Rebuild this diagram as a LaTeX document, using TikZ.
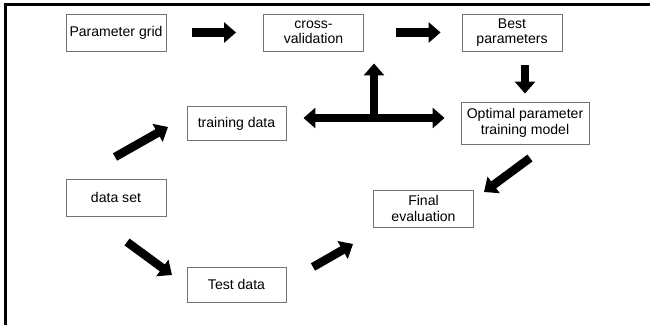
\documentclass[tikz,border=0pt]{standalone}
\usepackage{fontspec}
\setmainfont{Liberation Sans}
\usetikzlibrary{arrows.meta}
\tikzset{
  bigtip/.tip={Triangle[length=0.24cm,width=0.4cm]},
  box/.style={draw=black!55, line width=0.5pt, minimum width=2cm, minimum height=0.74cm,
    align=center, inner sep=1pt, font=\fontsize{8}{8.8}\selectfont},
  fat/.style={line width=0.17cm, -bigtip},
}
\begin{document}
\begin{tikzpicture}
            \useasboundingbox (0,0) rectangle (13,6.5);
            \draw[line width=1.6pt] (0.116,0) |- (13,6.41);

            \node[box] (grid) at (2.32,5.85) {Parameter grid};
            \node[box] (cv) at (6.27,5.85) {cross-\\validation};
            \node[box] (best) at (10.24,5.85) {Best\\parameters};
            \node[box, minimum width=2.56cm, minimum height=0.84cm] (opt) at (10.5,4.04) {Optimal parameter\\training model};
            \node[box, minimum width=1.98cm, minimum height=0.68cm] (train) at (4.73,4.03) {training data};
            \node[box] (data) at (2.32,2.55) {data set};
            \node[box, minimum width=1.98cm, minimum height=0.7cm] (test) at (4.73,0.81) {Test data};
            \node[box] (final) at (8.47,2.33) {Final\\evaluation};

            \draw[fat, shorten <=0.52cm, shorten >=0.54cm] (grid) -- (cv);
            \draw[fat, shorten <=0.64cm, shorten >=0.42cm] (cv) -- (best);
            \draw[fat, shorten <=0.28cm, shorten >=0.16cm] (best.south -| opt) -- (opt);

            \coordinate (hub) at (7.48,4.14);
            \draw[fat, bigtip-bigtip, shorten <=0.34cm, shorten >=0.32cm] (train.east |- hub) -- (opt.west |- hub);
            \draw[fat, shorten >=0.24cm] (hub) -- (cv.south -| hub);

            \coordinate (data-up) at (2.30,3.36);
            \coordinate (train-in) at (3.36,3.96);
            \coordinate (data-down) at (2.54,1.66);
            \coordinate (test-in) at (3.44,1.00);
            \coordinate (test-out) at (6.26,1.16);
            \coordinate (final-left) at (7.06,1.62);
            \coordinate (opt-out) at (10.60,3.34);
            \coordinate (final-right) at (9.68,2.66);

            \draw[fat] (data-up) -- (train-in);
            \draw[fat] (data-down) -- (test-in);
            \draw[fat] (test-out) -- (final-left);
            \draw[fat] (opt-out) -- (final-right);
        \end{tikzpicture}
\end{document}
